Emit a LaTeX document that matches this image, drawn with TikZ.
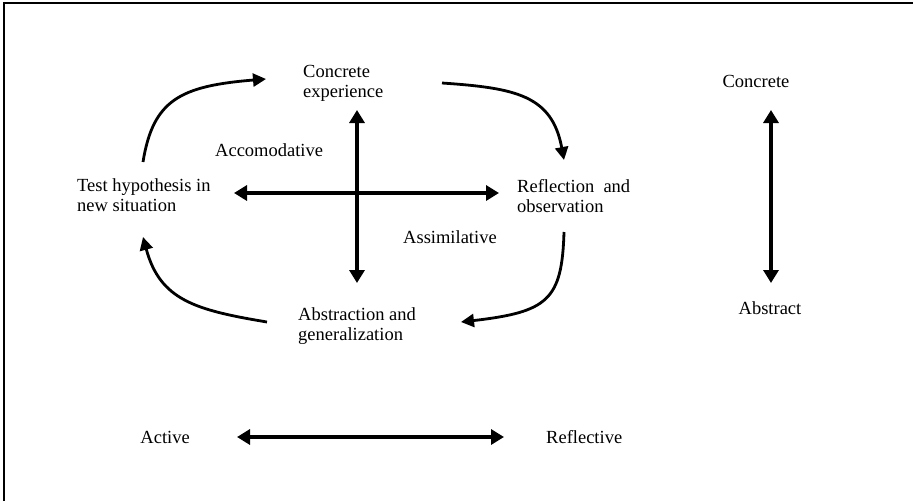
\documentclass[tikz,border=0pt]{standalone}
\usepackage{fontspec}
\setmainfont{Liberation Serif}
\usetikzlibrary{arrows.meta}
\tikzset{
  lbl/.style={inner sep=0pt, align=left, font=\fontsize{18.5}{20}\selectfont},
  axis/.style={line width=3.6pt, {Triangle[length=13pt,width=15pt]}-{Triangle[length=13pt,width=15pt]}},
  cyc/.style={line width=2.8pt, -{Triangle[length=13pt,width=13pt]}},
  frame/.style={line width=2pt}
}
\begin{document}
\begin{tikzpicture}[x=1pt,y=-1pt]
\useasboundingbox (0,0) rectangle (913,501);
\draw[frame] (4,501) -- (4,3) -- (913,3);

% texts
\node[lbl,anchor=west] (ce) at (303,83) {Concrete\\experience};
\node[lbl,anchor=west] (th) at (77,195) {Test hypothesis in\\new situation};
\node[lbl,anchor=west] (ro) at (517,196) {Reflection\ \ and\\observation};
\node[lbl,anchor=west] (ag) at (298,326) {Abstraction and\\generalization};
\node[lbl,anchor=west] (acc) at (215,150) {Accomodative};
\node[lbl,anchor=west] (ass) at (403,237) {Assimilative};
\node[lbl] (conc) at (756,81) {Concrete};
\node[lbl] (abs) at (770,308) {Abstract};
\node[lbl,anchor=east] (act) at (190,437) {Active};
\node[lbl,anchor=west] (refl) at (546,437) {Reflective};

% axis end points
\coordinate (vt) at (357,110);
\coordinate (vb) at (357,283);
\coordinate (hl) at (234,193);
\coordinate (hr) at (499,193);
\coordinate (rt) at (771,110);
\coordinate (rb) at (771,283);
\coordinate (bl) at (237,437);
\coordinate (br) at (504,437);

\draw[axis] (vt) -- (vb);
\draw[axis] (hl) -- (hr);
\draw[axis] (rt) -- (rb);
\draw[axis] (bl) -- (br);

% cycle end points
\coordinate (c1s) at (143,162); \coordinate (c1e) at (266,79);
\coordinate (c2s) at (442,83);  \coordinate (c2e) at (564,160);
\coordinate (c3s) at (564,232); \coordinate (c3e) at (461,322);
\coordinate (c4s) at (267,322); \coordinate (c4e) at (143,237);

\draw[cyc] (c1s) .. controls (153,100) and (180,86) .. (c1e);
\draw[cyc] (c2s) .. controls (515,88) and (552,95) .. (c2e);
\draw[cyc] (c3s) .. controls (562,300) and (548,312) .. (c3e);
\draw[cyc] (c4s) .. controls (195,310) and (160,300) .. (c4e);
\end{tikzpicture}
\end{document}
